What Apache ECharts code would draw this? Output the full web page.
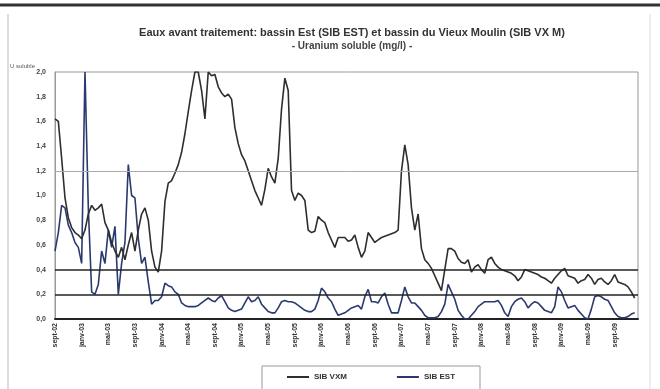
<!DOCTYPE html>
<html><head><meta charset="utf-8">
<script src="https://cdn.jsdelivr.net/npm/echarts@6/dist/echarts.min.js"></script>
<style>html,body{margin:0;padding:0;background:#fff}#c{width:660px;height:389px}</style>
</head><body><div id="c"></div>
<script>
// Tick labels shown every 8 samples along the category axis
const tickLabels = ["sept-02","janv-03","mai-03","sept-03","janv-04","mai-04","sept-04","janv-05","mai-05","sept-05","janv-06","mai-06","sept-06","janv-07","mai-07","sept-07","janv-08","mai-08","sept-08","janv-09","mai-09","sept-09"];
const samplesPerTick = 8;

// SIB VX M (mg/l)
const sibVXM = [1.62,1.6,1.3,0.98,0.82,0.74,0.7,0.68,0.65,0.72,0.85,0.92,0.88,0.9,0.93,0.78,0.72,0.62,0.55,0.5,
0.58,0.48,0.6,0.7,0.55,0.72,0.85,0.9,0.8,0.55,0.42,0.38,0.55,0.95,1.1,1.12,1.18,1.25,1.35,1.5,
1.68,1.85,2.0,2.0,1.85,1.62,2.0,1.97,1.98,1.88,1.83,1.8,1.82,1.78,1.55,1.42,1.33,1.28,1.2,1.12,
1.04,0.98,0.92,1.05,1.22,1.15,1.1,1.3,1.7,1.95,1.85,1.04,0.96,1.02,1.0,0.96,0.72,0.7,0.71,0.83,
0.8,0.78,0.7,0.64,0.58,0.66,0.66,0.66,0.63,0.64,0.68,0.58,0.5,0.55,0.7,0.66,0.62,0.64,0.66,0.67,
0.68,0.69,0.7,0.72,1.2,1.41,1.25,0.9,0.72,0.85,0.57,0.48,0.45,0.41,0.35,0.29,0.23,0.4,0.57,0.57,
0.55,0.49,0.46,0.45,0.48,0.38,0.42,0.44,0.4,0.37,0.48,0.5,0.45,0.42,0.4,0.39,0.38,0.37,0.35,0.31,
0.34,0.4,0.39,0.38,0.37,0.36,0.34,0.33,0.31,0.29,0.33,0.36,0.39,0.41,0.35,0.34,0.33,0.29,0.31,0.32,
0.36,0.33,0.28,0.32,0.33,0.3,0.28,0.31,0.36,0.3,0.29,0.28,0.26,0.22,0.17,null];

// SIB EST (mg/l)
const sibEST = [0.55,0.7,0.92,0.9,0.76,0.7,0.62,0.58,0.45,2.0,0.9,0.22,0.2,0.28,0.55,0.45,0.72,0.58,0.75,0.2,
0.45,0.62,1.25,1.0,0.98,0.65,0.45,0.5,0.3,0.12,0.15,0.15,0.18,0.29,0.27,0.26,0.22,0.2,0.13,0.11,
0.1,0.1,0.1,0.11,0.13,0.15,0.17,0.15,0.14,0.17,0.19,0.14,0.09,0.07,0.06,0.07,0.08,0.13,0.18,0.14,
0.15,0.18,0.12,0.09,0.06,0.05,0.05,0.09,0.14,0.15,0.14,0.14,0.13,0.11,0.09,0.07,0.06,0.06,0.08,0.15,
0.25,0.22,0.17,0.14,0.08,0.03,0.04,0.05,0.07,0.09,0.1,0.11,0.08,0.18,0.24,0.14,0.14,0.13,0.18,0.21,
0.12,0.05,0.05,0.05,0.15,0.26,0.18,0.13,0.13,0.1,0.07,0.03,0.01,0.01,0.01,0.02,0.06,0.12,0.28,0.22,
0.16,0.07,0.03,0.0,0.0,0.03,0.06,0.1,0.12,0.14,0.14,0.14,0.14,0.15,0.11,0.05,0.02,0.1,0.14,0.16,
0.17,0.14,0.09,0.12,0.14,0.13,0.1,0.07,0.06,0.05,0.1,0.26,0.22,0.15,0.09,0.1,0.11,0.07,0.04,0.01,
0.0,0.08,0.18,0.19,0.18,0.16,0.15,0.1,0.05,0.02,0.01,0.01,0.02,0.04,0.05,null];

// Reference levels drawn as horizontal lines
const greyLevels = [1.2];
const darkLevels = [0.4, 0.2];

const categories = sibVXM.map((_, i) => String(i));

const chart = echarts.init(document.getElementById('c'), null, {renderer: 'canvas'});
const ff = 'Liberation Sans, Arial, sans-serif';
chart.setOption({
  animation: false,
  backgroundColor: '#fff',
  title: {
    text: 'Eaux avant traitement: bassin Est (SIB EST) et bassin du Vieux Moulin (SIB VX M)',
    subtext: '- Uranium soluble (mg/l) -',
    left: 347, textAlign: 'center', top: 22, itemGap: 3,
    textStyle: {fontFamily: ff, fontSize: 11, fontWeight: 'bold', color: '#333'},
    subtextStyle: {fontFamily: ff, fontSize: 10, fontWeight: 'bold', color: '#444'}
  },
  graphic: [
    {type: 'line', shape: {x1: 0, y1: 5, x2: 660, y2: 5}, style: {stroke: '#333', lineWidth: 3}},
    {type: 'line', shape: {x1: 8, y1: 14, x2: 8, y2: 389}, style: {stroke: '#bbb', lineWidth: 1}},
    {type: 'line', shape: {x1: 650, y1: 14, x2: 650, y2: 389}, style: {stroke: '#ddd', lineWidth: 1}},
    {type: 'text', left: 10, top: 63, style: {text: 'U soluble', fontSize: 6, fontFamily: ff, fill: '#555'}}
  ],
  legend: {
    data: ['SIB VXM', 'SIB EST'],
    left: 262, top: 366, width: 218, itemGap: 50,
    padding: [7, 25, 12, 25],
    borderColor: '#999', borderWidth: 1,
    itemWidth: 22, itemHeight: 2, icon: 'rect',
    textStyle: {fontFamily: ff, fontSize: 8, fontWeight: 'bold', color: '#333'}
  },
  grid: {left: 55, right: 22, top: 72, bottom: 70, show: true, borderColor: '#999', borderWidth: 1},
  xAxis: {
    type: 'category', data: categories, boundaryGap: false,
    axisLine: {lineStyle: {color: '#222', width: 2}},
    axisTick: {show: false},
    splitLine: {show: false},
    axisLabel: {
      interval: samplesPerTick - 1, rotate: 90, margin: 4,
      fontFamily: ff, fontSize: 7, fontWeight: 'bold', color: '#333',
      formatter: (v, i) => tickLabels[Math.round(i / samplesPerTick)] || ''
    }
  },
  yAxis: {
    type: 'value', min: 0, max: 2, interval: 0.2,
    axisLine: {show: true, lineStyle: {color: '#999'}},
    axisTick: {show: false},
    splitLine: {show: false},
    axisLabel: {
      fontFamily: ff, fontSize: 7, fontWeight: 'bold', color: '#444', margin: 9,
      formatter: v => v.toFixed(1).replace('.', ',')
    }
  },
  series: [
    {
      name: 'SIB VXM', type: 'line', data: sibVXM, showSymbol: false,
      lineStyle: {color: '#2e2e2e', width: 1.6}, itemStyle: {color: '#2e2e2e'},
      z: 3,
      markLine: {
        silent: true, symbol: 'none', label: {show: false},
        data: greyLevels.map(v => ({yAxis: v, lineStyle: {color: '#aaa', width: 1, type: 'solid'}}))
          .concat(darkLevels.map(v => ({yAxis: v, lineStyle: {color: '#222', width: 1.6, type: 'solid'}})))
      }
    },
    {
      name: 'SIB EST', type: 'line', data: sibEST, showSymbol: false,
      lineStyle: {color: '#2b3a6e', width: 1.6}, itemStyle: {color: '#2b3a6e'},
      z: 2
    }
  ]
});
</script></body></html>
